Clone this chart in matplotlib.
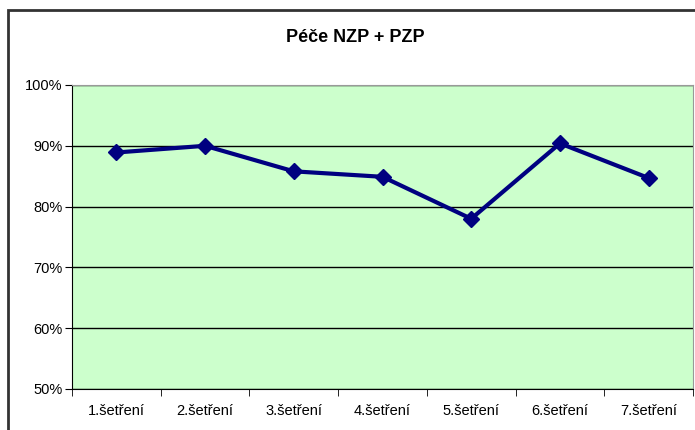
import matplotlib
matplotlib.use('Agg')
from matplotlib import pyplot as plt
from matplotlib.patches import Rectangle
from matplotlib.ticker import FixedLocator, PercentFormatter

# data
categories = ['1.šetření', '2.šetření', '3.šetření', '4.šetření',
              '5.šetření', '6.šetření', '7.šetření']
values = [88.9, 90.0, 85.8, 84.9, 78.0, 90.4, 84.7]
y_ticks = [50, 60, 70, 80, 90, 100]

plt.rcParams['font.family'] = ['Liberation Sans', 'DejaVu Sans']

fig = plt.figure(figsize=(6.95, 4.30), dpi=100)
W, H = 695, 430
ax = fig.add_axes([72 / W, 1 - 389 / H, (693 - 72) / W, (389 - 85) / H])

ax.set_facecolor('#CCFFCC')
x = list(range(len(categories)))
ax.plot(x, values, color='#000080', linewidth=3, marker='D',
        markersize=8, zorder=3)

ax.set_xlim(-0.5, len(categories) - 0.5)
ax.set_ylim(50, 100)
ax.set_yticks(y_ticks)
ax.yaxis.set_major_formatter(PercentFormatter(decimals=0))
ax.grid(axis='y', color='black', linewidth=1)
ax.set_axisbelow(True)

ax.set_xticks(x)
ax.set_xticklabels(categories)
ax.xaxis.set_minor_locator(FixedLocator([i - 0.5 for i in range(len(categories) + 1)]))
ax.tick_params(axis='x', which='major', length=0, pad=11, labelsize=10.5)
ax.tick_params(axis='x', which='minor', length=5, direction='out', color='black')
ax.tick_params(axis='y', length=5, labelsize=10.5, pad=2)

ax.spines['left'].set_color('black')
ax.spines['bottom'].set_color('black')
ax.spines['top'].set_color('#999999')
ax.spines['right'].set_color('#999999')

fig.text(355 / W, 1 - 37 / H, 'Péče NZP + PZP', ha='center', va='center',
         fontsize=13, fontweight='bold')

# outer chart border
fig.patches.append(Rectangle((8 / W, -0.1), 1.1, 1 - 10 / H + 0.1,
                             transform=fig.transFigure, fill=False,
                             edgecolor='#333333', linewidth=2))

plt.savefig('out.png', dpi=100)
